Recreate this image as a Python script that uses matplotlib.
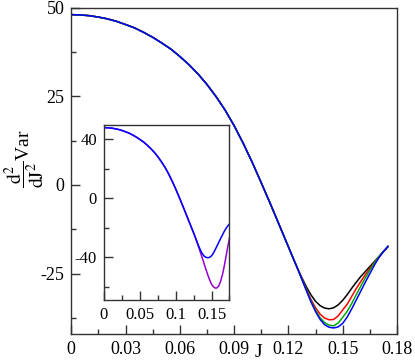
import numpy as np
import matplotlib
matplotlib.use('Agg')
import matplotlib.pyplot as plt
from matplotlib.ticker import FixedLocator, FixedFormatter, MultipleLocator

plt.rcParams['font.family'] = ['Liberation Serif', 'DejaVu Serif']
plt.rcParams['mathtext.fontset'] = 'stix'
plt.rcParams['axes.unicode_minus'] = False

# curva comun (todas las series coinciden hasta J ~ 0.12)
J_comun = [0, 0.005, 0.01, 0.015, 0.02, 0.025, 0.03, 0.035, 0.04, 0.045,
           0.05, 0.055, 0.06, 0.065, 0.07, 0.075, 0.08, 0.085, 0.09, 0.095,
           0.1, 0.105, 0.11, 0.115, 0.12, 0.1225]
v_comun = [48.0, 47.9, 47.7, 47.3, 46.8, 46.1, 45.2, 44.25, 43.0, 41.6,
           40.0, 38.3, 36.2, 33.9, 31.3, 28.3, 24.9, 21.1, 16.7, 11.75,
           6.35, 0.6, -5.3, -11.35, -17.45, -20.5]

# zona del minimo
J_min = [0.125, 0.1275, 0.13, 0.1325, 0.135, 0.1375, 0.14, 0.1425, 0.145,
         0.1475, 0.15, 0.1525, 0.155, 0.1575, 0.16, 0.1625, 0.165, 0.1675,
         0.17, 0.1725, 0.175]
v_negro = [-23.5, -26.2, -28.8, -31.0, -32.8, -34.0, -34.7, -34.9, -34.6,
           -33.8, -32.5, -30.9, -29.1, -27.4, -25.8, -24.4, -23.0, -21.6,
           -20.2, -18.8, -17.4]
v_rojo = [-23.5, -26.5, -29.5, -32.3, -34.6, -36.4, -37.5, -38.0, -37.9,
          -36.9, -35.2, -33.6, -31.4, -29.2, -27.2, -25.3, -23.5, -21.9,
          -20.3, -18.8, -17.4]
v_verde = [-23.5, -26.6, -29.7, -32.7, -35.3, -37.4, -38.8, -39.5, -39.7,
           -38.9, -37.3, -35.6, -33.4, -30.9, -28.5, -26.2, -24.0, -22.0,
           -20.2, -18.7, -17.3]
v_azul = [-23.5, -26.7, -29.9, -33.0, -35.7, -37.9, -39.4, -40.1, -40.3,
          -40.0, -39.0, -37.2, -34.9, -32.4, -29.9, -27.4, -25.0, -22.6,
          -20.5, -18.8, -17.3]
v_violeta = [-23.5, -26.8, -30.2, -33.8, -37.5, -41.2, -45.0, -48.7, -52.3,
             -55.6, -58.3, -60.0, -60.9, -60.8, -59.4, -56.5, -52.2, -46.5,
             -39.9, -33.2, -26.8]

xticks = [0, 0.03, 0.06, 0.09, 0.12, 0.15, 0.18]
xlabels = ['0', '0.03', '0.06', '0.09', '0.12', '0.15', '0.18']
yticks = [-25, 0, 25, 50]
yticks_in = [-40, 0, 40]
xticks_in = [0, 0.05, 0.1, 0.15]
xlabels_in = ['0', '0.05', '0.1', '0.15']

J_comun = np.array(J_comun)
J_min = np.array(J_min)


def serie(v):
    return np.concatenate([J_comun, J_min]), np.concatenate([v_comun, v])


def estilo(ax, fs):
    for s in ax.spines.values():
        s.set_linewidth(1.0)
        s.set_color('#333333')
    ax.tick_params(which='both', direction='in', top=False, right=False,
                   labelsize=fs, color='#333333', width=1.0, pad=5)
    ax.tick_params(which='major', length=6.5)
    ax.tick_params(which='minor', length=3.6)


fig = plt.figure(figsize=(4.15, 3.63), dpi=100)
ax = fig.add_axes([0.1718, 0.0799, 0.7848, 0.8994])

lw = 1.1
for v, c in [(v_negro, 'black'), (v_rojo, 'red'), (v_verde, '#00a800'),
             (v_azul, 'blue')]:
    x, y = serie(v)
    ax.plot(x, y, color=c, lw=lw)

ax.set_xlim(0, 0.18)
ax.set_ylim(-42, 50)
ax.xaxis.set_major_locator(FixedLocator(xticks))
ax.xaxis.set_major_formatter(FixedFormatter(xlabels))
ax.xaxis.set_minor_locator(MultipleLocator(0.015))
ax.yaxis.set_major_locator(FixedLocator(yticks))
ax.yaxis.set_minor_locator(MultipleLocator(12.5))
estilo(ax, 13)

fig.text(0.622, 0.030, 'J', fontsize=14, ha='center', va='center')
fig.text(0.060, 0.563, r'$\dfrac{\mathrm{d}^2}{\mathrm{dJ}^2}$Var', fontsize=14,
         rotation=90, ha='center', va='center')

# inset
axi = fig.add_axes([0.2506, 0.1736, 0.3024, 0.4829])
x, y = serie(v_violeta)
axi.plot(x, y, color='#9400d3', lw=lw)
x, y = serie(v_azul)
axi.plot(x, y, color='blue', lw=lw)
axi.set_xlim(0, 0.175)
axi.set_ylim(-69, 50)
axi.xaxis.set_major_locator(FixedLocator(xticks_in))
axi.xaxis.set_major_formatter(FixedFormatter(xlabels_in))
axi.xaxis.set_minor_locator(MultipleLocator(0.025))
axi.yaxis.set_major_locator(FixedLocator(yticks_in))
axi.yaxis.set_minor_locator(MultipleLocator(20))
estilo(axi, 12)

fig.savefig('out.png', dpi=100)
